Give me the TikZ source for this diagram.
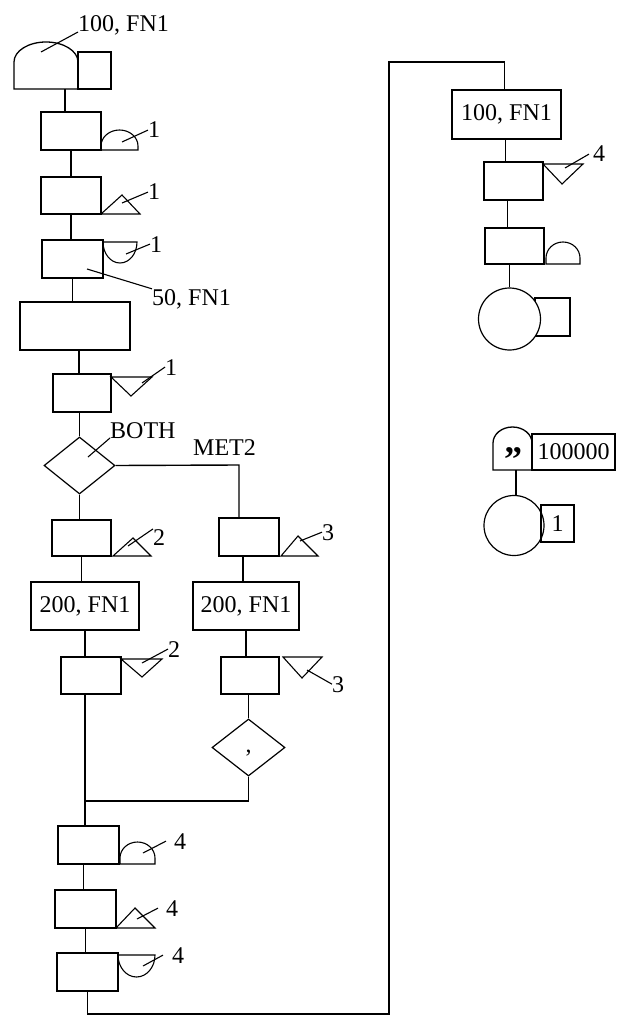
\documentclass[tikz,border=0pt]{standalone}
\usepackage{fontspec}
\setmainfont{Liberation Serif}
\usetikzlibrary{shapes.geometric}
\tikzset{
  txt/.style={font=\fontsize{24}{28}\selectfont},
  box/.style={draw, rectangle, inner sep=0pt, line width=1.4pt, txt},
  region/.style={rectangle, inner sep=0pt},
  sym/.style={draw, line width=1.1pt},
  conn/.style={line width=1.4pt},
  leader/.style={line width=1.1pt},
  lab/.style={inner sep=0pt, txt, anchor=base west},
  dia/.style={draw, diamond, inner sep=0pt, line width=1.2pt, txt},
  circ/.style={draw, circle, inner sep=0pt, line width=1.2pt, fill=white}
}
\newcommand\mybox[6]{\node[box, minimum width={(#4-#2)*1pt}, minimum height={(#5-#3)*1pt}] (#1) at ({(#2+#4)/2},{(#3+#5)/2}) {#6};}
\newcommand\myregion[5]{\node[region, minimum width={(#4-#2)*1pt}, minimum height={(#5-#3)*1pt}] (#1) at ({(#2+#4)/2},{(#3+#5)/2}) {};}
\begin{document}
\begin{tikzpicture}[x=1pt, y=-1pt]
\fill[white] (0,0) rectangle (624,1016);
\useasboundingbox (0,0) rectangle (624,1016);

% ---------- GENERATE ----------
\myregion{gendome}{14}{42}{78}{89}
\draw[sym, line width=1.3pt] (14,89) -- (14,62) arc[start angle=180, end angle=0, x radius=32pt, y radius=20pt] -- (78,89) -- cycle;
\mybox{genbox}{78}{52}{111}{89}{}
\node[lab] (l0) at (78,32) {100, FN1};
\coordinate (s0) at (41,52);
\draw[leader] (s0) -- (l0.base west);

% ---------- main column ----------
\mybox{b2}{41}{112}{101}{150}{}
\draw[sym] (101,150) -- (101,146) arc[start angle=180, end angle=0, x radius=18.5pt, y radius=16pt] -- (138,150) -- cycle;
\node[lab] (l2) at (148,138) {1};
\coordinate (s2) at (122,142);
\draw[leader] (s2) -- (l2.west);

\mybox{b3}{41}{177}{101}{214}{}
\draw[sym] (101,214) -- (122,195) -- (140,214) -- cycle;
\node[lab] (l3) at (148,200) {1};
\coordinate (s3) at (122,203);
\draw[leader] (s3) -- (l3.west);

\mybox{b4}{42}{240}{103}{278}{}
\draw[sym] (103,242) -- (137,242) arc[start angle=0, end angle=-180, x radius=17pt, y radius=21pt] -- cycle;
\node[lab] (l4) at (150,252) {1};
\coordinate (s4) at (126,254);
\draw[leader] (s4) -- (l4.west);
\node[lab] (l4b) at (152,305) {50, FN1};
\coordinate (s4b) at (87,269);
\draw[leader] (s4b) -- (l4b.north west);

\mybox{b5}{20}{302}{130}{350}{}

\mybox{b6}{53}{374}{111}{412}{}
\draw[sym] (111,377) -- (152,377) -- (131,396) -- cycle;
\node[lab] (l6) at (165,375) {1};
\coordinate (s6) at (142,383);
\draw[leader] (s6) -- (l6.west);

\node[dia, minimum width=71pt, minimum height=57pt] (d1) at (79.5,465.5) {};
\node[lab] (lboth) at (110,438) {BOTH};
\coordinate (sd1) at (88,457);
\draw[leader] (sd1) -- (lboth.base west);
\node[lab] (lmet) at (193,455) {MET2};

% left branch
\mybox{b8}{52}{520}{111}{556}{}
\draw[sym] (113,556) -- (133,538) -- (151,556) -- cycle;
\node[lab] (l8) at (153,545) {2};
\coordinate (s8) at (128,546);
\draw[leader] (s8) -- (l8.north west);

\mybox{b9}{31}{582}{139}{630}{200, FN1}

\mybox{b10}{61}{657}{121}{694}{}
\draw[sym] (121,659) -- (162,659) -- (142,677) -- cycle;
\node[lab] (l10) at (168,657) {2};
\coordinate (s10) at (142,663);
\draw[leader] (s10) -- (l10.west);

% right branch
\mybox{b7}{219}{518}{279}{556}{}
\draw[sym] (281,556) -- (298,536) -- (318,556) -- cycle;
\node[lab] (l7) at (322,540) {3};
\coordinate (s7) at (300,541);
\draw[leader] (s7) -- (l7.west);

\mybox{b18}{193}{582}{299}{630}{200, FN1}

\mybox{b11}{221}{657}{279}{694}{}
\draw[sym] (283,657) -- (322,657) -- (302,678) -- cycle;
\node[lab] (l11) at (332,692) {3};
\coordinate (s11) at (307,670);
\draw[leader] (s11) -- (l11.west);

\node[dia, minimum width=73pt, minimum height=57pt, text height=9pt, text depth=0pt] (d2) at (248.5,747.5) {,};

% bottom
\mybox{b12}{58}{826}{119}{864}{}
\draw[sym] (120,864) -- (120,858) arc[start angle=180, end angle=0, x radius=17.5pt, y radius=16pt] -- (155,864) -- cycle;
\node[lab] (l12) at (174,849) {4};
\coordinate (s12) at (143,853);
\draw[leader] (s12) -- ([xshift=-8pt]l12.west);

\mybox{b13}{55}{890}{116}{928}{}
\draw[sym] (116,928) -- (135,908) -- (155,928) -- cycle;
\node[lab] (l13) at (166,916) {4};
\coordinate (s13) at (137,919);
\draw[leader] (s13) -- ([xshift=-8pt]l13.west);

\mybox{b14}{57}{953}{118}{991}{}
\draw[sym] (118,955) -- (155,955) arc[start angle=0, end angle=-180, x radius=18.5pt, y radius=22pt] -- cycle;
\node[lab] (l14) at (172,963) {4};
\coordinate (s14) at (143,966);
\draw[leader] (s14) -- ([xshift=-9pt]l14.west);

% ---------- right column ----------
\mybox{b15}{452}{90}{561}{139}{100, FN1}

\mybox{b16}{484}{162}{543}{200}{}
\draw[sym] (543,164) -- (583,164) -- (562,184) -- cycle;
\node[lab] (l16) at (593,162) {4};
\coordinate (s16) at (565,168);
\draw[leader] (s16) -- ([xshift=-4pt]l16.west);

\mybox{b17}{485}{228}{544}{264}{}
\draw[sym] (546,264) -- (546,258) arc[start angle=180, end angle=0, x radius=17pt, y radius=16pt] -- (580,264) -- cycle;

\mybox{sq1}{535}{298}{570}{336}{}
\node[circ, minimum size=62pt] (c1) at (509.5,319) {};

% ---------- small group ----------
\myregion{dome2}{493}{427}{532}{470}
\draw[sym, line width=1.3pt] (493,470) -- (493,443) arc[start angle=180, end angle=0, x radius=19.5pt, y radius=16pt] -- (532,470) -- cycle;
\node[inner sep=0pt, font=\fontsize{36}{36}\selectfont\bfseries] (q) at (513,460) {”};
\mybox{sq2}{532}{434}{615}{470}{100000}
\node[circ, minimum size=60pt] (c2) at (514,525.5) {};
\mybox{sq3}{541}{505}{574}{542}{1}

% ---------- connectors ----------
\coordinate (mc) at (239,465);
\coordinate (jn) at (85,801);
\coordinate (loopA) at (389,1014);
\coordinate (loopB) at (389,62);

\draw[conn] ([xshift=-6pt]b2.north |- gendome.south) -- ([xshift=-6pt]b2.north);
\draw[conn] (b2.south) -- (b2.south |- b3.north);
\draw[conn] (b3.south) -- (b3.south |- b4.north);
\draw[conn] (b4.south) -- (b4.south |- b5.north);
\draw[conn] ([xshift=-3pt]b6.north |- b5.south) -- ([xshift=-3pt]b6.north);
\draw[conn] (d1.north |- b6.south) -- (d1.north);
\draw[conn] (d1.south) -- (d1.south |- b8.north);
\draw[conn] (b8.south) -- (b8.south |- b9.north);
\draw[conn] (b9.south) -- (b9.south |- b10.north);
\draw[conn] (jn |- b10.south) -- (jn);
\draw[conn] (d1.east) -- (mc) -- (mc |- b7.north);
\draw[conn] ([xshift=-3pt]b18.north |- b7.south) -- ([xshift=-3pt]b18.north);
\draw[conn] (b18.south) -- (b18.south |- b11.north);
\draw[conn] (d2.north |- b11.south) -- (d2.north);
\draw[conn] (d2.south) -- (d2.south |- jn) -- (jn);
\draw[conn] (jn) -- (jn |- b12.north);
\draw[conn] ([xshift=-2pt]b13.north |- b12.south) -- ([xshift=-2pt]b13.north);
\draw[conn] (b13.south) -- (b13.south |- b14.north);
\draw[conn] (b14.south) |- (loopA) -- (loopB) -| ([xshift=-2pt]b15.north);
\draw[conn] ([xshift=-1pt]b15.south) -- ([xshift=-1pt]b15.south |- b16.north);
\draw[conn] ([xshift=1pt]b15.south |- b16.south) -- ([xshift=1pt]b15.south |- b17.north);
\draw[conn] (c1.north |- b17.south) -- (c1.north);
\draw[conn] ([xshift=2pt]c2.north |- dome2.south) -- ([xshift=2pt]c2.north);
\end{tikzpicture}
\end{document}
